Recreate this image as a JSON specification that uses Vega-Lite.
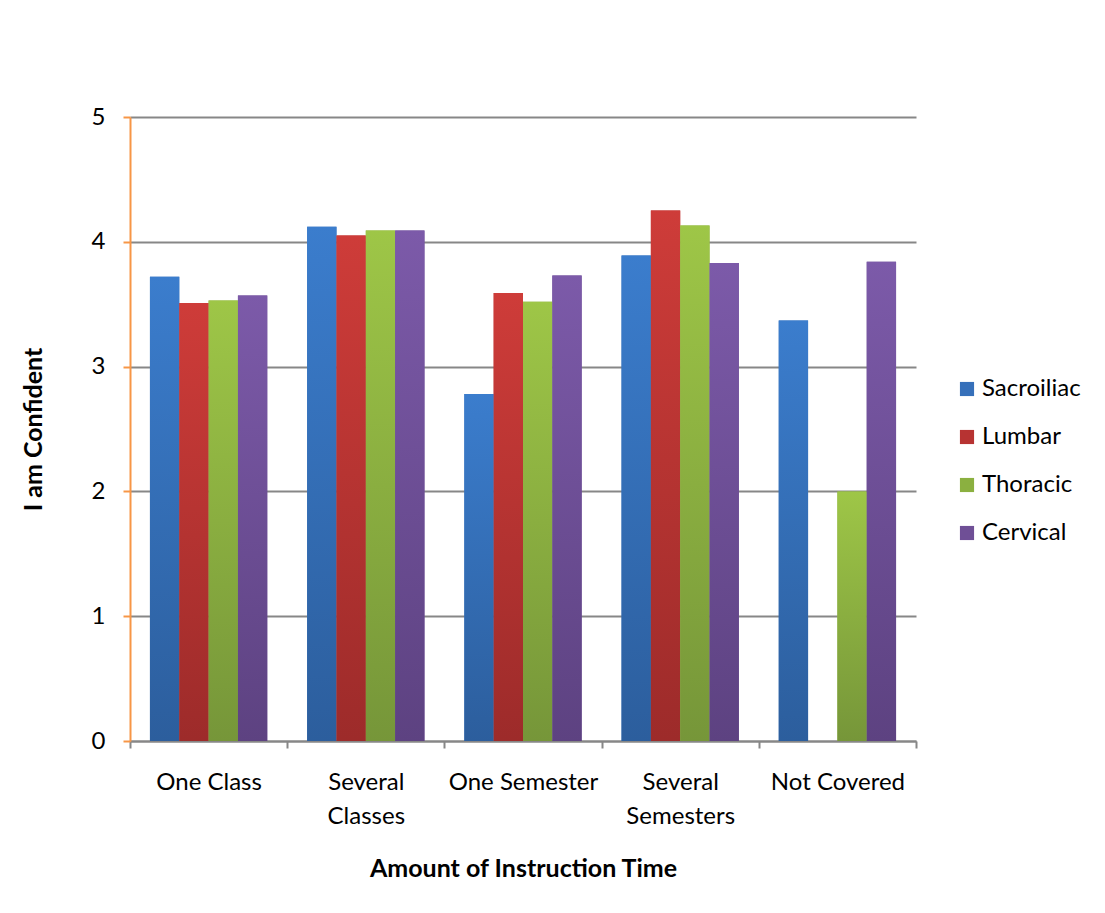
{
  "$schema": "https://vega.github.io/schema/vega-lite/v6.json",
  "autosize": {"type": "none"},
  "width": 786,
  "height": 624,
  "padding": {"left": 130, "top": 117, "right": 189, "bottom": 172},
  "background": "white",
  "config": {
    "font": "Lato",
    "view": {"stroke": null}
  },
  "data": {
    "values": [
      {"time": "One Class", "region": "Sacroiliac", "value": 3.72},
      {"time": "One Class", "region": "Lumbar", "value": 3.51},
      {"time": "One Class", "region": "Thoracic", "value": 3.53},
      {"time": "One Class", "region": "Cervical", "value": 3.57},
      {"time": "Several Classes", "region": "Sacroiliac", "value": 4.12},
      {"time": "Several Classes", "region": "Lumbar", "value": 4.05},
      {"time": "Several Classes", "region": "Thoracic", "value": 4.09},
      {"time": "Several Classes", "region": "Cervical", "value": 4.09},
      {"time": "One Semester", "region": "Sacroiliac", "value": 2.78},
      {"time": "One Semester", "region": "Lumbar", "value": 3.59},
      {"time": "One Semester", "region": "Thoracic", "value": 3.52},
      {"time": "One Semester", "region": "Cervical", "value": 3.73},
      {"time": "Several Semesters", "region": "Sacroiliac", "value": 3.89},
      {"time": "Several Semesters", "region": "Lumbar", "value": 4.25},
      {"time": "Several Semesters", "region": "Thoracic", "value": 4.13},
      {"time": "Several Semesters", "region": "Cervical", "value": 3.83},
      {"time": "Not Covered", "region": "Sacroiliac", "value": 3.37},
      {"time": "Not Covered", "region": "Lumbar", "value": 0},
      {"time": "Not Covered", "region": "Thoracic", "value": 2.0},
      {"time": "Not Covered", "region": "Cervical", "value": 3.84}
    ]
  },
  "encoding": {
    "x": {
      "field": "time", "type": "nominal",
      "sort": ["One Class", "Several Classes", "One Semester", "Several Semesters", "Not Covered"],
      "scale": {"paddingInner": 0, "paddingOuter": 0},
      "axis": {
        "title": "Amount of Instruction Time",
        "titleFont": "Lato", "titleFontSize": 25, "titleFontWeight": "bold", "titleColor": "black",
        "titleY": 127, "titleBaseline": "middle",
        "labelAngle": 0, "labelFont": "Lato", "labelFontSize": 24, "labelColor": "black", "labelPadding": 22,
        "labelLineHeight": 34, "labelBaseline": "top",
        "labelExpr": "datum.label == 'Several Classes' ? ['Several', 'Classes'] : datum.label == 'Several Semesters' ? ['Several', 'Semesters'] : datum.label",
        "tickBand": "extent", "tickColor": "#878787", "tickSize": 7, "tickWidth": 2,
        "domainColor": "#878787", "domainWidth": 2,
        "grid": false
      }
    },
    "xOffset": {
      "field": "region", "type": "nominal",
      "sort": ["Sacroiliac", "Lumbar", "Thoracic", "Cervical"],
      "scale": {"paddingInner": 0, "paddingOuter": 0.68}
    },
    "y": {
      "field": "value", "type": "quantitative",
      "scale": {"domain": [0, 5], "nice": false},
      "axis": {
        "title": "I am Confident",
        "titleFont": "Lato", "titleFontSize": 25, "titleFontWeight": "bold", "titleColor": "black",
        "titleX": -97, "titleY": 312, "titleAngle": -90, "titleBaseline": "middle", "titleAlign": "center",
        "values": [0, 1, 2, 3, 4, 5], "format": "d",
        "labelFont": "Lato", "labelFontSize": 24, "labelColor": "black", "labelPadding": 18,
        "tickColor": "#F79646", "tickSize": 7, "tickWidth": 2,
        "domainColor": "#F79646", "domainWidth": 2,
        "grid": true, "gridColor": "#878787", "gridWidth": 2
      }
    }
  },
  "layer": [
    {
      "mark": {"type": "bar"},
      "encoding": {
        "color": {
          "field": "region", "type": "nominal",
          "sort": ["Sacroiliac", "Lumbar", "Thoracic", "Cervical"],
          "scale": {"domain": ["Sacroiliac", "Lumbar", "Thoracic", "Cervical"], "range": ["#3670BA", "#B73332", "#8BB040", "#6F4F96"]},
          "legend": {
            "title": null, "orient": "none", "legendX": 825, "legendY": 260,
            "symbolType": "square", "symbolSize": 200, "symbolStrokeWidth": 0,
            "labelFont": "Lato", "labelFontSize": 24, "labelColor": "black", "labelOffset": 3,
            "rowPadding": 24
          }
        }
      }
    },
    {
      "transform": [{"filter": "datum.region == 'Sacroiliac'"}],
      "mark": {"type": "bar", "color": {"gradient": "linear", "x1": 0, "y1": 0, "x2": 0, "y2": 1, "stops": [{"offset": 0, "color": "#3B7DCD"}, {"offset": 1, "color": "#2C5E9D"}]}}
    },
    {
      "transform": [{"filter": "datum.region == 'Lumbar'"}],
      "mark": {"type": "bar", "color": {"gradient": "linear", "x1": 0, "y1": 0, "x2": 0, "y2": 1, "stops": [{"offset": 0, "color": "#CE3C39"}, {"offset": 1, "color": "#9D2B2A"}]}}
    },
    {
      "transform": [{"filter": "datum.region == 'Thoracic'"}],
      "mark": {"type": "bar", "color": {"gradient": "linear", "x1": 0, "y1": 0, "x2": 0, "y2": 1, "stops": [{"offset": 0, "color": "#9EC647"}, {"offset": 1, "color": "#769639"}]}}
    },
    {
      "transform": [{"filter": "datum.region == 'Cervical'"}],
      "mark": {"type": "bar", "color": {"gradient": "linear", "x1": 0, "y1": 0, "x2": 0, "y2": 1, "stops": [{"offset": 0, "color": "#7C5AA9"}, {"offset": 1, "color": "#5D4281"}]}}
    }
  ]
}
